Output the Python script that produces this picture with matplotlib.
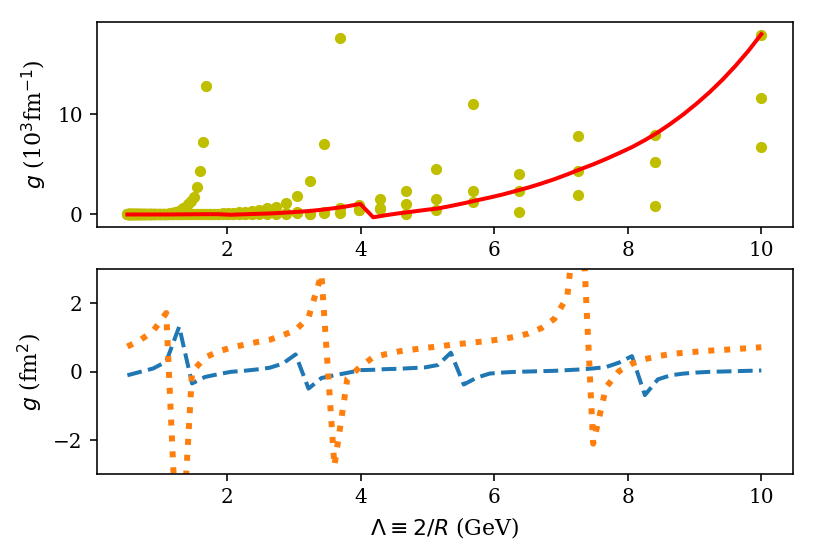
import matplotlib
matplotlib.use("Agg")
import matplotlib.pyplot as plt

plt.rcParams['font.family'] = 'serif'
plt.rcParams['font.size'] = 10

# ---------------- top panel: scatter points (x = Lambda) ----------------
x_pts = [10.000, 8.403, 7.246, 6.369, 5.682, 5.128, 4.673, 4.292, 3.968, 3.690,
         3.448, 3.236, 3.049, 2.882, 2.732, 2.597, 2.475, 2.364, 2.262, 2.169,
         2.083, 2.004, 1.931, 1.862, 1.799, 1.739, 1.684, 1.631, 1.582, 1.536,
         1.493, 1.451, 1.412, 1.376, 1.340, 1.307, 1.276, 1.245, 1.217, 1.189,
         1.163, 1.138, 1.114, 1.091, 1.068, 1.047, 1.027, 1.007, 0.988, 0.970,
         0.952, 0.935, 0.919, 0.903, 0.888, 0.873, 0.859, 0.845, 0.832, 0.819,
         0.806, 0.794, 0.782, 0.771, 0.760, 0.749, 0.739, 0.728, 0.718, 0.709,
         0.699, 0.690, 0.681, 0.672, 0.664, 0.656, 0.648, 0.640, 0.632, 0.625,
         0.617, 0.610, 0.603, 0.596, 0.590, 0.583, 0.577, 0.570, 0.564, 0.558,
         0.552, 0.547, 0.541, 0.536, 0.530, 0.525, 0.520, 0.515, 0.510, 0.505,
         0.500]

g_pts_a = [17.9, 7.96, 7.83, 4.01, 11.0, 4.51, 2.35, 1.52, 0.92, 17.6,
           7.04, 3.37, 1.88, 1.18, 0.78, 0.60, 0.46, 0.36, 0.28, 0.22,
           0.17, 0.14, 0.11, 0.09, 0.07, 0.05, 12.82, 7.27, 4.37, 2.78,
           1.78, 1.30, 1.00, 0.78, 0.60, 0.46, 0.36, 0.28, 0.22, 0.17,
           0.13, 0.10, 0.08, 0.06, 0.05, 0.04, 0.04, 0.03, 0.03, 0.03,
           0.03, 0.02, 0.02, 0.02, 0.02, 0.02, 0.02, 0.02, 0.01, 0.01,
           0.01, 0.01, 0.01, 0.01, 0.01, 0.01, 0.01, 0.01, 0.01, 0.01,
           0.01, 0.01, 0.01, 0.01, 0.01, 0.01, 0.00, 0.00, 0.00, 0.00,
           0.00, 0.00, 0.00, 0.00, 0.00, 0.00, 0.00, 0.00, 0.00, 0.00,
           0.00, 0.00, 0.00, 0.00, 0.00, 0.00, 0.00, 0.00, 0.00, 0.00,
           0.00]

g_pts_b = [11.6, 5.21, 4.37, 2.38, 2.38, 1.55, 1.02, 0.62, 0.45, 0.62,
           0.20, 0.05, 0.28, 0.18, 0.15, 0.12, 0.10, 0.09, 0.08, 0.07,
           0.06, 0.05, 0.05, 0.04, 0.04, 0.03, 0.03, 0.03, 0.02, 0.02,
           0.02, 0.02, 0.02, 0.02, 0.02, 0.02, 0.01, 0.01, 0.01, 0.01,
           0.01, 0.01, 0.01, 0.01, 0.01, 0.01, 0.01, 0.01, 0.01, 0.01,
           0.01, 0.01, 0.01, 0.01, 0.01, 0.01, 0.01, 0.01, 0.01, 0.01,
           0.00, 0.00, 0.00, 0.00, 0.00, 0.00, 0.00, 0.00, 0.00, 0.00,
           0.00, 0.00, 0.00, 0.00, 0.00, 0.00, 0.00, 0.00, 0.00, 0.00,
           0.00, 0.00, 0.00, 0.00, 0.00, 0.00, 0.00, 0.00, 0.00, 0.00,
           0.00, 0.00, 0.00, 0.00, 0.00, 0.00, 0.00, 0.00, 0.00, 0.00,
           0.00]

g_pts_c = [6.77, 0.88, 1.98, 0.25, 1.28, 0.45, 0.05, 0.55, 0.40, 0.18,
           0.12, 0.00, 0.10, 0.08, 0.06, 0.05, 0.04, 0.04, 0.03, 0.03,
           0.02, 0.02, 0.02, 0.01, 0.01, 0.01, 0.01, 0.01, 0.01, 0.01,
           0.00, 0.00, 0.00, 0.00, 0.00, 0.00, 0.00, 0.00, 0.00, 0.00,
           0.00, 0.00, 0.00, 0.00, 0.00, 0.00, 0.00, 0.00, 0.00, 0.00,
           0.00, 0.00, 0.00, 0.00, 0.00, 0.00, 0.00, 0.00, 0.00, 0.00,
           0.00, 0.00, 0.00, 0.00, 0.00, 0.00, 0.00, 0.00, 0.00, 0.00,
           0.00, 0.00, 0.00, 0.00, 0.00, 0.00, 0.00, 0.00, 0.00, 0.00,
           0.00, 0.00, 0.00, 0.00, 0.00, 0.00, 0.00, 0.00, 0.00, 0.00,
           0.00, 0.00, 0.00, 0.00, 0.00, 0.00, 0.00, 0.00, 0.00, 0.00,
           0.00]

# ---------------- curves on a uniform Lambda grid ----------------
x_grid = [0.500, 0.694, 0.888, 1.082, 1.276, 1.469, 1.663, 1.857, 2.051, 2.245,
          2.439, 2.633, 2.827, 3.020, 3.214, 3.408, 3.602, 3.796, 3.990, 4.184,
          4.378, 4.571, 4.765, 4.959, 5.153, 5.347, 5.541, 5.735, 5.929, 6.122,
          6.316, 6.510, 6.704, 6.898, 7.092, 7.286, 7.480, 7.673, 7.867, 8.061,
          8.255, 8.449, 8.643, 8.837, 9.031, 9.224, 9.418, 9.612, 9.806, 10.000]

g_red = [0.00, 0.00, 0.00, 0.00, 0.01, 0.02, 0.03, 0.03, -0.03, 0.02,
         0.06, 0.10, 0.17, 0.25, 0.34, 0.47, 0.63, 0.82, 1.05, -0.28,
         -0.07, 0.12, 0.28, 0.45, 0.60, 0.85, 1.12, 1.41, 1.69, 1.99,
         2.34, 2.69, 3.09, 3.52, 4.00, 4.51, 5.00, 5.54, 6.12, 6.72,
         7.42, 8.19, 9.07, 10.02, 11.07, 12.20, 13.45, 14.83, 16.33, 18.00]

g_blue = [-0.10, 0.00, 0.10, 0.30, 1.32, -0.34, -0.15, -0.07, 0.00, 0.03,
          0.07, 0.12, 0.24, 0.51, -0.49, -0.18, -0.10, -0.03, 0.05, 0.06,
          0.08, 0.09, 0.11, 0.13, 0.20, 0.56, -0.37, -0.17, -0.05, -0.02,
          0.00, 0.01, 0.02, 0.03, 0.05, 0.07, 0.10, 0.14, 0.27, 0.46,
          -0.68, -0.22, -0.10, -0.05, -0.02, 0.00, 0.01, 0.02, 0.03, 0.04]

g_orange = [0.74, 0.93, 1.20, 1.72, -6.60, 0.00, 0.42, 0.59, 0.71, 0.79,
            0.87, 0.94, 1.07, 1.22, 1.59, 2.85, -2.75, -0.20, 0.15, 0.43,
            0.52, 0.60, 0.65, 0.70, 0.74, 0.79, 0.83, 0.87, 0.91, 0.96,
            1.03, 1.12, 1.28, 1.55, 2.20, 5.70, -2.10, -0.45, 0.02, 0.24,
            0.37, 0.46, 0.52, 0.56, 0.59, 0.62, 0.64, 0.67, 0.69, 0.72]

top_yticks = [0, 10]
bot_yticks = [-2, 0, 2]
xticks = [2, 4, 6, 8, 10]

W, H, DPI = 816, 555, 144
fig = plt.figure(figsize=(W / DPI, H / DPI), dpi=DPI)

def axbox(l, t, r, b):
    return [l / W, 1 - b / H, (r - l) / W, (b - t) / H]

ax1 = fig.add_axes(axbox(96.7, 21.7, 792.7, 226.7))
ax2 = fig.add_axes(axbox(96.7, 269.3, 792.7, 474.4))

for ys in (g_pts_a, g_pts_b, g_pts_c):
    ax1.plot(x_pts, ys, 'o', color='y', ms=5.6, mew=0, ls='none')
ax1.plot(x_grid, g_red, '-', color='r', lw=2)
ax1.set_xlim(0.04, 10.47)
ax1.set_ylim(-1.22, 19.24)
ax1.set_xticks(xticks)
ax1.set_yticks(top_yticks)
ax1.set_ylabel(r'$g$ (10$^3$fm$^{-1}$)', fontsize=11)

ax2.plot(x_grid, g_blue, '--', color='C0', lw=2)
ax2.plot(x_grid, g_orange, ':', color='C1', lw=3)
ax2.set_xlim(0.04, 10.47)
ax2.set_ylim(-3, 3)
ax2.set_xticks(xticks)
ax2.set_yticks(bot_yticks)
ax2.set_ylabel(r'$g$ (fm$^2$)', fontsize=11)
ax2.set_xlabel(r'$\Lambda\equiv 2/R$ (GeV)', fontsize=11)

fig.savefig('out.png', dpi=DPI)
